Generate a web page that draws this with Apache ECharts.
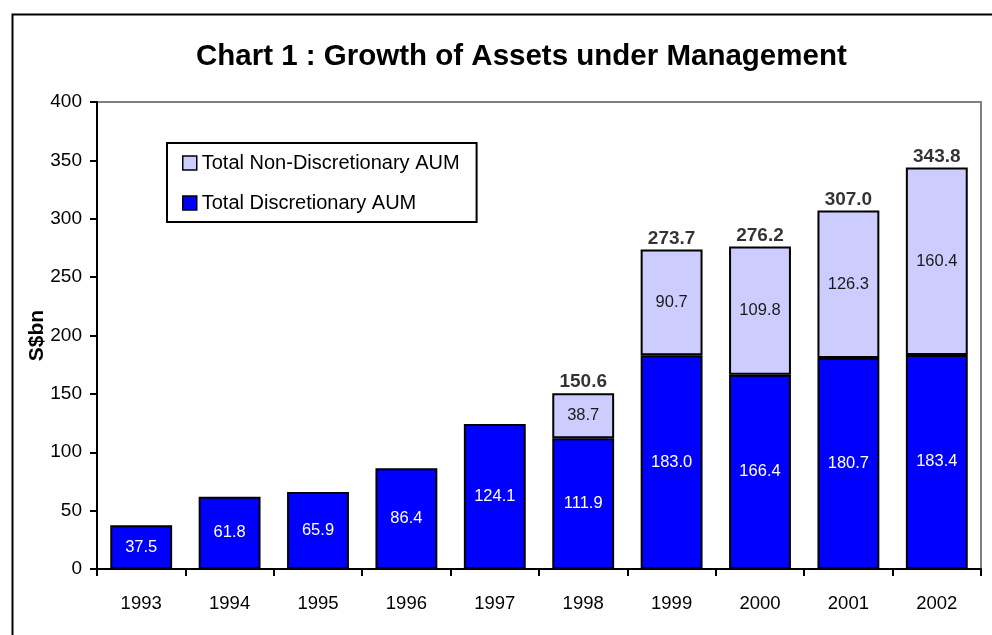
<!DOCTYPE html>
<html>
<head>
<meta charset="utf-8">
<script src="https://cdn.jsdelivr.net/npm/echarts@6/dist/echarts.min.js"></script>
<style>
html,body{margin:0;padding:0;background:#fff;}
#chart{width:992px;height:635px;}
</style>
</head>
<body>
<div id="chart"></div>
<script>
var years = ['1993','1994','1995','1996','1997','1998','1999','2000','2001','2002'];
var discretionary = [37.5, 61.8, 65.9, 86.4, 124.1, 111.9, 183.0, 166.4, 180.7, 183.4];
var nonDiscretionary = [null, null, null, null, null, 38.7, 90.7, 109.8, 126.3, 160.4];
var totals = [null, null, null, null, null, 150.6, 273.7, 276.2, 307.0, 343.8];
var yTicks = [0, 50, 100, 150, 200, 250, 300, 350, 400];

var chart = echarts.init(document.getElementById('chart'));
var FONT = '"Liberation Sans", Arial, sans-serif';
chart.setOption({
  animation: false,
  textStyle: {fontFamily: FONT},
  title: {
    text: 'Chart 1 : Growth of Assets under Management',
    left: 191, top: 37,
    textStyle: {fontFamily: FONT, fontWeight: 'bold', fontSize: 29.5, color: '#000'}
  },
  graphic: [{
    type: 'rect', left: 10, top: 12, z: -1,
    shape: {x: 0, y: 0, width: 1000, height: 700},
    style: {fill: 'none', stroke: '#000', lineWidth: 2}
  }],
  legend: {
    orient: 'vertical',
    left: 167, top: 143,
    data: ['Total Non-Discretionary AUM', 'Total Discretionary AUM'],
    backgroundColor: '#fff',
    borderColor: '#000', borderWidth: 2,
    padding: [10, 17, 9, 15],
    icon: 'rect',
    itemWidth: 14, itemHeight: 14, itemGap: 20,
    textStyle: {fontFamily: FONT, fontSize: 20, color: '#000', lineHeight: 20},
    itemStyle: {borderColor: '#000', borderWidth: 1.5}
  },
  grid: {
    left: 97, top: 102, right: 11, bottom: 66,
    show: true, borderColor: '#808080', borderWidth: 2
  },
  xAxis: {
    type: 'category',
    data: years,
    axisLine: {lineStyle: {color: '#000', width: 2}},
    axisTick: {show: true, length: 7, lineStyle: {color: '#000', width: 2}},
    axisLabel: {margin: 25, fontSize: 18.5, color: '#000', fontFamily: FONT}
  },
  yAxis: {
    type: 'value', min: yTicks[0], max: yTicks[yTicks.length - 1], interval: 50,
    name: 'S$bn', nameLocation: 'middle', nameGap: 49, nameRotate: 90,
    nameMoveOverlap: false,
    nameTextStyle: {fontFamily: FONT, fontWeight: 'bold', fontSize: 21, color: '#000'},
    axisLine: {show: true, lineStyle: {color: '#000', width: 2}},
    axisTick: {show: true, length: 7, lineStyle: {color: '#000', width: 2}},
    axisLabel: {margin: 15, fontSize: 19, color: '#000', fontFamily: FONT},
    splitLine: {show: false}
  },
  series: [{
    name: 'Total Discretionary AUM',
    type: 'bar', stack: 'aum', barWidth: '70%',
    data: discretionary,
    itemStyle: {color: '#0000FF', borderColor: '#000', borderWidth: 2},
    label: {show: true, position: 'inside', color: '#fff', fontSize: 16.5, fontFamily: FONT,
      formatter: function (p) { return p.value.toFixed(1); }}
  }, {
    name: 'Total Non-Discretionary AUM',
    type: 'bar', stack: 'aum', barWidth: '70%',
    data: nonDiscretionary,
    itemStyle: {color: '#CCCCFF', borderColor: '#000', borderWidth: 2},
    label: {show: true, position: 'inside', color: '#1a1a1a', fontSize: 16.5, fontFamily: FONT,
      formatter: function (p) { return p.value == null ? '' : p.value.toFixed(1); }}
  }, {
    name: 'Total',
    type: 'scatter',
    data: totals,
    symbolSize: 1,
    itemStyle: {color: 'rgba(0,0,0,0)'},
    label: {show: true, position: 'top', distance: 1, color: '#000', fontWeight: 'bold', fontSize: 19, fontFamily: FONT,
      formatter: function (p) { return p.value == null ? '' : Number(p.value).toFixed(1); }},
    z: 5
  }]
});
</script>
</body>
</html>
